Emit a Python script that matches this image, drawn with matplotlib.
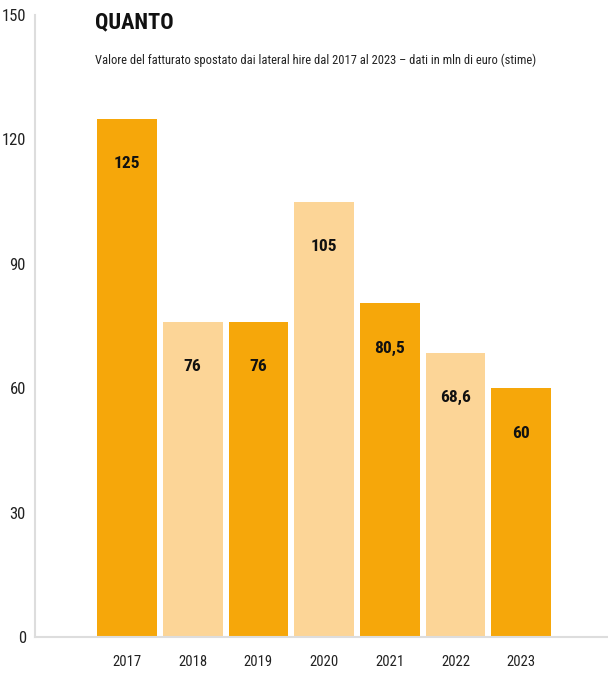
import matplotlib.pyplot as plt

## --- Data ---
anni = ["2017", "2018", "2019", "2020", "2021", "2022", "2023"]
valori = [125, 76, 76, 105, 80.5, 68.6, 60]
etichette = ["125", "76", "76", "105", "80,5", "68,6", "60"]
colori = ["#f6a70a", "#fcd597", "#f6a70a", "#fcd597", "#f6a70a", "#fcd597", "#f6a70a"]
y_ticks = [0, 30, 60, 90, 120, 150]

plt.rcParams['font.family'] = ['Roboto Condensed', 'Roboto', 'DejaVu Sans']

## --- Figure ---
fig = plt.figure(figsize=(6.08, 6.73), dpi=100)
ax = fig.add_axes([35 / 608, 36 / 673, 1 - 35 / 608, 622 / 673])

x = list(range(len(anni)))
ax.bar(x, valori, width=0.91, color=colori)

# value labels ~45 px below the top of each bar
for xi, v, t in zip(x, valori, etichette):
    ax.annotate(t, (xi, v), xytext=(0, -32.5), textcoords="offset points",
                ha="center", va="center", fontsize=12.5, fontweight="bold",
                color="#111111")

ax.set_xlim(-1.40, 7.32)
ax.set_ylim(0, 150)
ax.set_xticks(x)
ax.set_xticklabels(anni, fontsize=10.5, color="#222222")
ax.set_yticks(y_ticks)
ax.set_yticklabels([str(t) for t in y_ticks], fontsize=12, color="#222222")
ax.tick_params(length=0)
ax.tick_params(axis="x", pad=13)
ax.tick_params(axis="y", pad=6.5)

for s in ["top", "right"]:
    ax.spines[s].set_visible(False)
for s in ["left", "bottom"]:
    ax.spines[s].set_color("#dddddd")
    ax.spines[s].set_linewidth(1.5)

fig.text(95 / 608, 1 - 22 / 673, "QUANTO", fontsize=16, fontweight="bold",
         va="center", color="#111111")
fig.text(95 / 608, 1 - 60 / 673,
         "Valore del fatturato spostato dai lateral hire dal 2017 al 2023 \u2013 dati in mln di euro (stime)",
         fontsize=9, va="center", color="#222222")

fig.savefig("out.png", dpi=100)
